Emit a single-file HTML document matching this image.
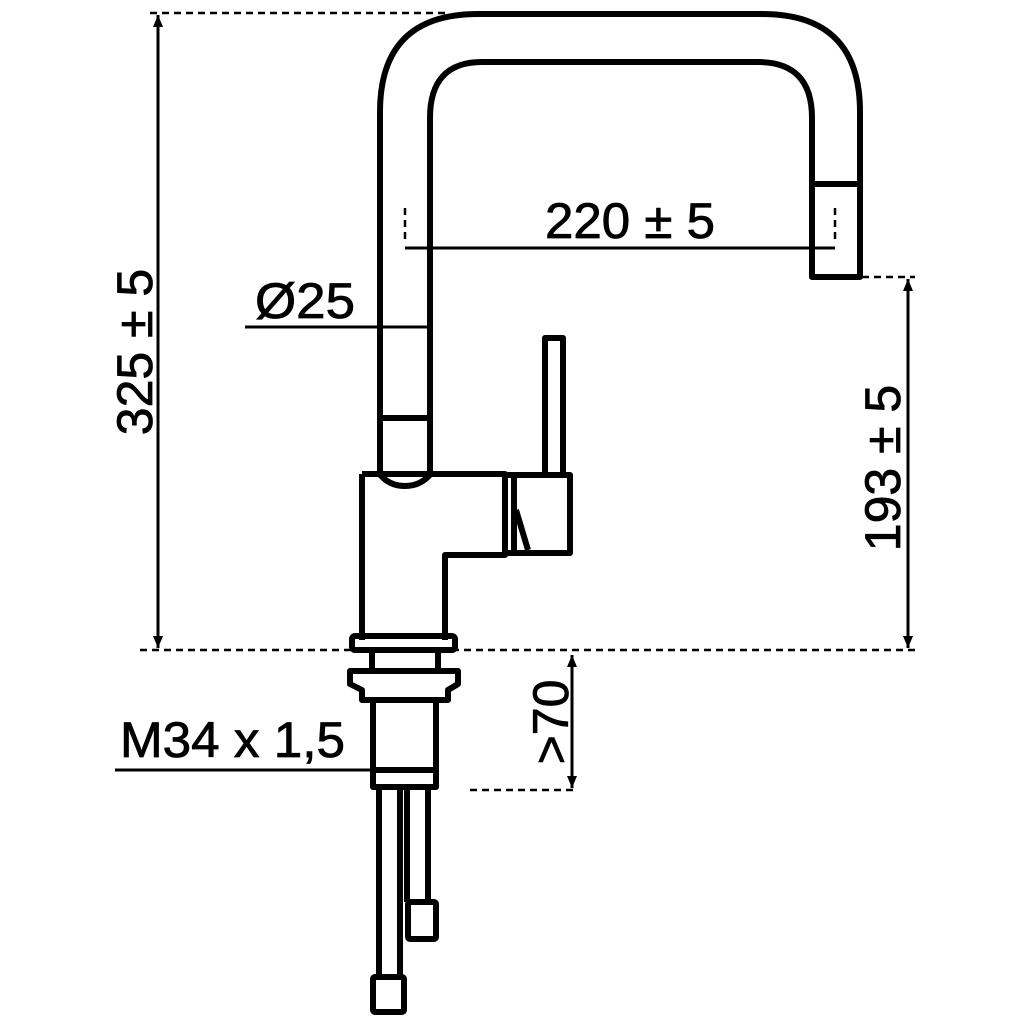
<!DOCTYPE html>
<html><head><style>html,body{margin:0;padding:0;background:#fff}svg{display:block}</style></head>
<body>
<svg width="1024" height="1024" viewBox="0 0 1024 1024" xmlns="http://www.w3.org/2000/svg">
<g fill="none" stroke="#000" stroke-width="6" stroke-linejoin="round">
<path d="M380 418 V112 Q380 14 478 14 H762 Q860 14 860 112 V277 H812 V118 Q812 62 758 62 H482 Q430 62 430 118 V418"/>
<line x1="812" y1="184" x2="860" y2="184"/>
<path d="M380 418 H430 V472 M380 418 V472"/>
<path d="M378 472 Q388 486 405 486 Q422 486 432 472"/>
<path d="M362 474 V640 M362 474 H505 V555 H445 V640"/>
<path d="M545 475 V338 H563 V475"/>
<rect x="505" y="475" width="65" height="78"/>
<line x1="514" y1="478" x2="514" y2="550"/>
<path d="M516 510 L528 550"/>
<rect x="352" y="636" width="103" height="14" rx="3"/>
<path d="M372 652 V670 M438 652 V670"/>
<path d="M350 671 H458 V684 L448 690 V700 H362 V690 L350 684 Z"/>
<path d="M373 700 V787 H436 V700"/>
<line x1="373" y1="770" x2="436" y2="770"/>
<path d="M379 787 V977 M400 787 V977 M407 787 V902 M428 787 V902"/>
<rect x="373" y="977" width="31" height="35" rx="2"/>
<rect x="408" y="902" width="28" height="37" rx="2"/>
</g>
<g stroke="#000" stroke-width="2.5" stroke-dasharray="7,5" fill="none">
<line x1="150" y1="13" x2="450" y2="13"/>
<line x1="140" y1="650" x2="915" y2="650"/>
<line x1="862" y1="277" x2="915" y2="277"/>
<line x1="470" y1="790" x2="575" y2="790"/>
<line x1="405" y1="208" x2="405" y2="240"/>
<line x1="835" y1="208" x2="835" y2="240"/>
</g>
<g stroke="#000" stroke-width="3" fill="none">
<line x1="158" y1="15" x2="158" y2="648"/>
<line x1="908" y1="279" x2="908" y2="648"/>
<line x1="572" y1="655" x2="572" y2="788"/>
<line x1="245" y1="327" x2="430" y2="327"/>
<line x1="405" y1="248" x2="835" y2="248"/>
<line x1="115" y1="770" x2="437" y2="770"/>
</g>
<g fill="#000">
<path d="M158 15 l-5 12 h10z M158 648 l-5 -12 h10z"/>
<path d="M908 279 l-5 12 h10z M908 648 l-5 -12 h10z"/>
<path d="M572 655 l-5 12 h10z M572 788 l-5 -12 h10z"/>
</g>
<g font-family="Liberation Sans, sans-serif" font-size="50" fill="#000" stroke="#000" stroke-width="0.8">
<text x="545" y="238" textLength="170" lengthAdjust="spacingAndGlyphs">220 ± 5</text>
<text x="255" y="318" textLength="100" lengthAdjust="spacingAndGlyphs">Ø25</text>
<text x="120" y="757" textLength="225" lengthAdjust="spacingAndGlyphs">M34 x 1,5</text>
<text transform="translate(152,352) rotate(-90)" text-anchor="middle">325 ± 5</text>
<text transform="translate(900,468) rotate(-90)" text-anchor="middle">193 ± 5</text>
<text transform="translate(568,722) rotate(-90)" text-anchor="middle">&gt;70</text>
</g>
</svg>
</body></html>
